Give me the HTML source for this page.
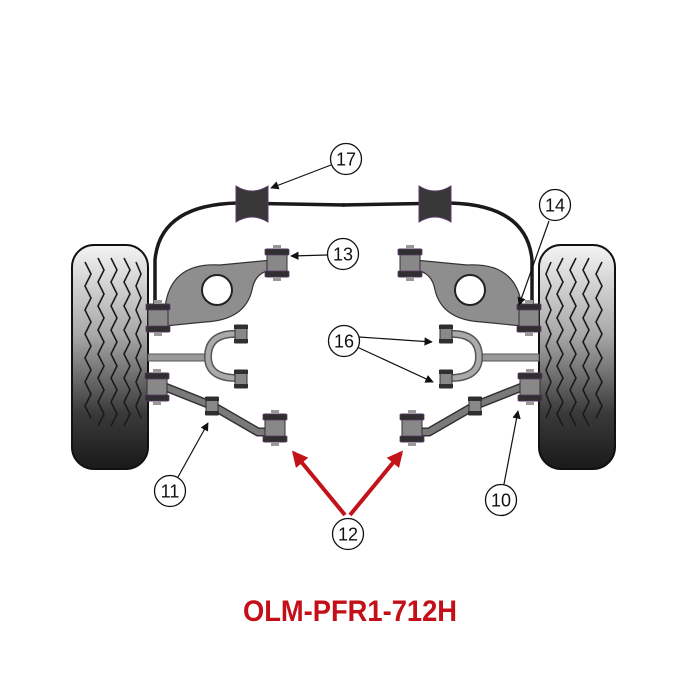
<!DOCTYPE html>
<html><head><meta charset="utf-8"><style>
html,body{margin:0;padding:0;background:#fff;}
svg{display:block;}
</style></head><body>
<svg width="700" height="700" viewBox="0 0 700 700" xmlns="http://www.w3.org/2000/svg">
<defs>
<linearGradient id="tg" x1="0" y1="0" x2="0" y2="1">
<stop offset="0" stop-color="#f4f4f4"/><stop offset="0.4" stop-color="#a8a8a8"/><stop offset="0.75" stop-color="#3a3a3a"/><stop offset="1" stop-color="#1a1a1a"/>
</linearGradient>
<marker id="ah" viewBox="0 0 10 10" refX="9" refY="5" markerWidth="7" markerHeight="7" orient="auto"><path d="M0,0 L10,5 L0,10 z" fill="#111"/></marker>
<marker id="rh" viewBox="0 0 10 10" refX="8" refY="5" markerWidth="4" markerHeight="4" orient="auto"><path d="M0,0 L10,5 L0,10 z" fill="#c4121a"/></marker>
<g id="bush">
<rect x="-10" y="-14" width="20" height="28" fill="#888" stroke="#3a2a3a" stroke-width="1"/>
<rect x="-12" y="-14" width="24" height="6" rx="1" fill="#2f2f2f" stroke="#5a3a6a" stroke-width="0.8"/>
<rect x="-12" y="8" width="24" height="6" rx="1" fill="#2f2f2f" stroke="#5a3a6a" stroke-width="0.8"/>
<rect x="-4" y="-18" width="8" height="4" fill="#999"/>
<rect x="-4" y="14" width="8" height="4" fill="#999"/>
</g>
<g id="sbush">
<rect x="-6" y="-9" width="12" height="18" fill="#888" stroke="#3a2a3a" stroke-width="1"/>
<rect x="-7" y="-9" width="14" height="4" fill="#2f2f2f"/>
<rect x="-7" y="5" width="14" height="4" fill="#2f2f2f"/>
</g>
<g id="side">
<rect x="72" y="245" width="76" height="224" rx="22" fill="url(#tg)" stroke="#111" stroke-width="2"/>
<g fill="none" stroke="#1a1a1a" stroke-width="1.6">
<path d="M85,262 l6,12 l-6,12 l6,12 l-6,12 l6,12 l-6,12 l6,12 l-6,12 l6,12 l-6,12 l6,12 l-6,12 l6,12"/>
<path d="M98,258 l6,12 l-6,12 l6,12 l-6,12 l6,12 l-6,12 l6,12 l-6,12 l6,12 l-6,12 l6,12 l-6,12 l6,12 l-6,12"/>
<path d="M111,258 l6,12 l-6,12 l6,12 l-6,12 l6,12 l-6,12 l6,12 l-6,12 l6,12 l-6,12 l6,12 l-6,12 l6,12 l-6,12"/>
<path d="M124,258 l6,12 l-6,12 l6,12 l-6,12 l6,12 l-6,12 l6,12 l-6,12 l6,12 l-6,12 l6,12 l-6,12 l6,12 l-6,12"/>
<path d="M136,262 l5,12 l-5,12 l5,12 l-5,12 l5,12 l-5,12 l5,12 l-5,12 l5,12 l-5,12 l5,12 l-5,12 l5,12"/>
</g>
<path d="M155,308 L155,260 Q160,205 237,203 L345,205" fill="none" stroke="#1a1a1a" stroke-width="3.5"/>
<path d="M236,186 Q252,196 268,186 L268,222 Q252,212 236,222 Z" fill="#383838" stroke="#5a3a6a" stroke-width="1"/>
<path d="M165,308 Q170,262 220,265 L272,260 L272,270 Q255,272 252,290 Q245,320 205,322 L165,326 Z" fill="#8e8e8e" stroke="#333" stroke-width="1.2"/>
<circle cx="217" cy="290" r="15" fill="#fff" stroke="#222" stroke-width="2"/>
<use href="#bush" x="158" y="318"/>
<use href="#bush" x="277" y="263"/>
<rect x="148" y="354" width="60" height="7" fill="#999" stroke="#555" stroke-width="1"/>
<path d="M240,334 Q208,332 208,357 Q208,379 240,378" fill="none" stroke="#555" stroke-width="8"/>
<path d="M240,334 Q208,332 208,357 Q208,379 240,378" fill="none" stroke="#aaa" stroke-width="5"/>
<use href="#sbush" x="241" y="334"/>
<use href="#sbush" x="241" y="379"/>
<path d="M160,385 L213,406 L258,432 L277,432" fill="none" stroke="#333" stroke-width="9" stroke-linejoin="round"/>
<path d="M160,385 L213,406 L258,432 L277,432" fill="none" stroke="#7a7a7a" stroke-width="6" stroke-linejoin="round"/>
<use href="#bush" x="157" y="387"/>
<use href="#sbush" x="212" y="406"/>
<use href="#bush" x="275" y="428"/>
</g>
</defs>
<use href="#side"/>
<use href="#side" transform="translate(687,0) scale(-1,1)"/>
<g stroke="#111" stroke-width="1.2" fill="none">
<line x1="331" y1="165" x2="271" y2="188" marker-end="url(#ah)"/>
<line x1="327" y1="255" x2="291" y2="256" marker-end="url(#ah)"/>
<line x1="549" y1="221" x2="519" y2="305" marker-end="url(#ah)"/>
<line x1="359" y1="337" x2="432" y2="342" marker-end="url(#ah)"/>
<line x1="357" y1="347" x2="433" y2="382" marker-end="url(#ah)"/>
<line x1="178" y1="477" x2="208" y2="423" marker-end="url(#ah)"/>
<line x1="504" y1="484" x2="518" y2="411" marker-end="url(#ah)"/>
</g>
<g stroke="#c4121a" stroke-width="4" fill="none">
<line x1="345" y1="515" x2="294" y2="453" marker-end="url(#rh)"/>
<line x1="350" y1="515" x2="401" y2="453" marker-end="url(#rh)"/>
</g>
<g fill="#fff" stroke="#111" stroke-width="1.3">
<circle cx="346" cy="159" r="15.5"/>
<circle cx="343" cy="254" r="15.5"/>
<circle cx="555" cy="205" r="15.5"/>
<circle cx="344" cy="341" r="15.5"/>
<circle cx="170" cy="491" r="15.5"/>
<circle cx="501" cy="500" r="15.5"/>
<circle cx="348" cy="534" r="15.5"/>
</g>
<g font-family="Liberation Sans, sans-serif" font-size="18" text-anchor="middle" fill="#111">
<text x="346" y="165.5">17</text>
<text x="343" y="260.5">13</text>
<text x="555" y="211.5">14</text>
<text x="344" y="347.5">16</text>
<text x="170" y="497.5">11</text>
<text x="501" y="506.5">10</text>
<text x="348" y="540.5">12</text>
</g>
<text x="350" y="621" font-family="Liberation Sans, sans-serif" font-weight="bold" font-size="30" fill="#c40f18" text-anchor="middle" textLength="214" lengthAdjust="spacingAndGlyphs">OLM-PFR1-712H</text>
</svg>
</body></html>
